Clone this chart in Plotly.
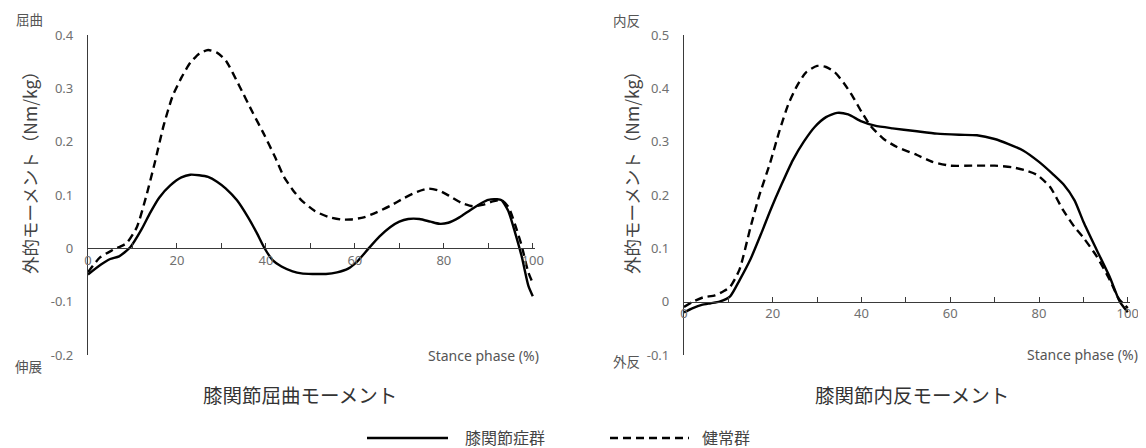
import plotly.graph_objects as go

# ---------------- data ----------------
# Left: knee flexion moment
flex_oa_x = [0, 3, 5, 7, 9.5, 12, 14, 16, 18.5, 21, 23, 25, 27, 29, 31, 33.5, 36, 38, 39.5, 41.5, 43.5, 46, 48, 50.5, 53.5, 56, 58.5, 60.5, 63, 65.5, 68, 70, 72, 74.5, 77, 79, 81, 83.5, 86, 88.5, 90, 92, 93, 94.5, 96, 97.5, 99, 100]
flex_oa_y = [-0.049, -0.03, -0.02, -0.015, 0.002, 0.035, 0.067, 0.095, 0.118, 0.133, 0.138, 0.137, 0.134, 0.125, 0.112, 0.09, 0.058, 0.028, 0.003, -0.022, -0.034, -0.043, -0.047, -0.048, -0.048, -0.045, -0.038, -0.025, -0.001, 0.022, 0.04, 0.05, 0.055, 0.055, 0.05, 0.046, 0.048, 0.058, 0.072, 0.085, 0.091, 0.092, 0.09, 0.07, 0.03, -0.015, -0.07, -0.09]

flex_ctrl_x = [0, 2.7, 5.6, 8.7, 11, 13, 15, 17, 19, 21, 23, 25, 27, 29, 31, 34, 37, 39.5, 42, 44, 46, 48, 51, 54, 57, 59, 62, 65, 68, 71, 74, 76.5, 79, 81.5, 84, 86.5, 89, 91, 93, 94.5, 96, 97.5, 99, 100]
flex_ctrl_y = [-0.045, -0.017, -0.003, 0.01, 0.04, 0.095, 0.16, 0.23, 0.285, 0.32, 0.348, 0.365, 0.372, 0.367, 0.352, 0.305, 0.255, 0.215, 0.172, 0.135, 0.11, 0.09, 0.07, 0.059, 0.054, 0.054, 0.058, 0.068, 0.08, 0.094, 0.106, 0.112, 0.108, 0.097, 0.085, 0.079, 0.082, 0.088, 0.09, 0.078, 0.045, 0.005, -0.045, -0.065]

# Right: knee varus (adduction) moment
var_oa_x = [0, 2, 4, 6, 8, 10.4, 12.5, 15, 17.5, 19.5, 22, 24.5, 27, 29.5, 32, 34.5, 37, 40, 43, 47, 52, 57, 62, 66, 70, 73, 76.5, 80, 83, 85.5, 88, 90, 93, 96, 98.2, 100]
var_oa_y = [-0.02, -0.012, -0.006, -0.003, 0.0, 0.01, 0.04, 0.08, 0.13, 0.172, 0.22, 0.265, 0.3, 0.328, 0.346, 0.354, 0.351, 0.338, 0.33, 0.325, 0.32, 0.315, 0.313, 0.312, 0.305, 0.296, 0.283, 0.262, 0.24, 0.22, 0.19, 0.15, 0.097, 0.045, 0.0, -0.02]

var_ctrl_x = [0, 2, 4.3, 7, 9, 10.4, 12.5, 15, 17, 19.4, 21.5, 23.5, 25.5, 27.5, 30, 32, 34, 36, 38, 40, 42, 45, 48, 52.5, 56, 60, 65, 70, 74, 77, 79.5, 82.5, 85.4, 88, 90, 93, 96, 98, 100]
var_ctrl_y = [-0.01, 0.0, 0.008, 0.012, 0.02, 0.028, 0.06, 0.14, 0.2, 0.26, 0.32, 0.37, 0.405, 0.43, 0.442, 0.44, 0.43, 0.41, 0.385, 0.356, 0.33, 0.305, 0.29, 0.275, 0.262, 0.255, 0.255, 0.255, 0.252, 0.246, 0.238, 0.215, 0.172, 0.14, 0.12, 0.085, 0.04, 0.005, -0.012]

flex_yticks = [-0.2, -0.1, 0, 0.1, 0.2, 0.3, 0.4]
flex_yticktext = ["-0.2", "-0.1", "0", "0.1", "0.2", "0.3", "0.4"]
var_yticks = [-0.1, 0, 0.1, 0.2, 0.3, 0.4, 0.5]
var_yticktext = ["-0.1", "0", "0.1", "0.2", "0.3", "0.4", "0.5"]

series_names = ["膝関節症群", "健常群"]
panel_titles = ["膝関節屈曲モーメント", "膝関節内反モーメント"]
y_title = "外的モーメント（Nm/kg）"
x_title = "Stance phase (%)"

# ---------------- figure ----------------
PAGE_W, PAGE_H = 1146, 448
OFF = 8  # default body margin of the html page
W, H = PAGE_W - OFF, PAGE_H - OFF
JP = "Noto Sans CJK JP"
TICKF = dict(family="Noto Sans", size=13, color="#707070")
AXC = "#3a3a3a"

solid = dict(color="black", width=2.4, shape="spline", smoothing=0.6)
dashed = dict(color="black", width=2.4, dash="8px,5px", shape="spline", smoothing=0.6)

fig = go.Figure()
fig.add_trace(go.Scatter(x=flex_oa_x, y=flex_oa_y, mode="lines", line=solid, xaxis="x", yaxis="y", name=series_names[0]))
fig.add_trace(go.Scatter(x=flex_ctrl_x, y=flex_ctrl_y, mode="lines", line=dashed, xaxis="x", yaxis="y", name=series_names[1]))
fig.add_trace(go.Scatter(x=var_oa_x, y=var_oa_y, mode="lines", line=solid, xaxis="x2", yaxis="y2", name=series_names[0]))
fig.add_trace(go.Scatter(x=var_ctrl_x, y=var_ctrl_y, mode="lines", line=dashed, xaxis="x2", yaxis="y2", name=series_names[1]))

def px_x(p):
    return (p - OFF) / W

def px_y(p):
    return 1 - (p - OFF) / H

ytop, ybot = 35, 355
ydom = [px_y(ybot), px_y(ytop)]
lx0, lx1 = 88, 535
rx0, rx1 = 684, 1130

# zero position in paper coordinates
left_zero = px_y(ybot - (0 - (-0.2)) / 0.6 * (ybot - ytop))
right_zero = px_y(ybot - (0 - (-0.1)) / 0.6 * (ybot - ytop))

xcommon = dict(range=[0, 100.5], showgrid=False, zeroline=False, showline=True, linecolor=AXC, linewidth=1.3,
               ticks="inside", ticklen=5, tickcolor=AXC, tickwidth=1.3, dtick=20, tick0=0,
               minor=dict(dtick=10, ticks="inside", ticklen=5, tickcolor=AXC, tickwidth=1.3),
               tickfont=TICKF, anchor="free", fixedrange=True, automargin=False)
ycommon = dict(domain=ydom, showgrid=False, zeroline=False, showline=True, linecolor=AXC, linewidth=1.3,
               ticks="", tickfont=TICKF, ticklabelstandoff=11, automargin=False)
fig.update_layout(
    width=W, height=H, autosize=False,
    margin=dict(l=0, r=0, t=0, b=0, autoexpand=False),
    paper_bgcolor="white", plot_bgcolor="rgba(0,0,0,0)",
    showlegend=False,
    xaxis=dict(domain=[px_x(lx0), px_x(lx1)], position=left_zero, **xcommon),
    xaxis2=dict(domain=[px_x(rx0), px_x(rx1)], position=right_zero, **xcommon),
    yaxis=dict(range=[-0.2, 0.4], anchor="x", tickvals=flex_yticks, ticktext=flex_yticktext, **ycommon),
    yaxis2=dict(range=[-0.1, 0.5], anchor="x2", tickvals=var_yticks, ticktext=var_yticktext, **ycommon),
)

ann = []
def a(text, x, y, size, color="#333333", family=JP, angle=0, xanchor="center"):
    ann.append(dict(text=text, x=px_x(x), y=px_y(y), xref="paper", yref="paper", showarrow=False,
                    font=dict(family=family, size=size, color=color), textangle=angle,
                    xanchor=xanchor, yanchor="middle"))

# corner labels
a("屈曲", 29, 19, 13.5, "#555555")
a("伸展", 28, 366, 13.5, "#555555")
a("内反", 626, 20, 13.5, "#555555")
a("外反", 626, 361, 13.5, "#555555")
# y titles
a(y_title, 29, 168, 17.5, "#444444", angle=-90)
a(y_title, 631, 168, 17.5, "#444444", angle=-90)
# x titles
a(x_title, 541, 355, 14, "#555555", family="Noto Sans", xanchor="right")
a(x_title, 1140, 354, 14, "#555555", family="Noto Sans", xanchor="right")
# panel titles
a(panel_titles[0], 300, 394, 19.5, "#333333")
a(panel_titles[1], 912, 394, 19.5, "#333333")
# legend text
a(series_names[0], 463, 437, 16, "#444444", xanchor="left")
a(series_names[1], 700, 437, 16, "#444444", xanchor="left")
fig.update_layout(annotations=ann)

# legend line samples
fig.add_shape(type="line", xref="paper", yref="paper", x0=px_x(367), x1=px_x(448), y0=px_y(438), y1=px_y(438),
              line=dict(color="black", width=2.4))
fig.add_shape(type="line", xref="paper", yref="paper", x0=px_x(610), x1=px_x(689), y0=px_y(438), y1=px_y(438),
              line=dict(color="black", width=2.4, dash="8px,5px"))

fig.write_html("out.html")
